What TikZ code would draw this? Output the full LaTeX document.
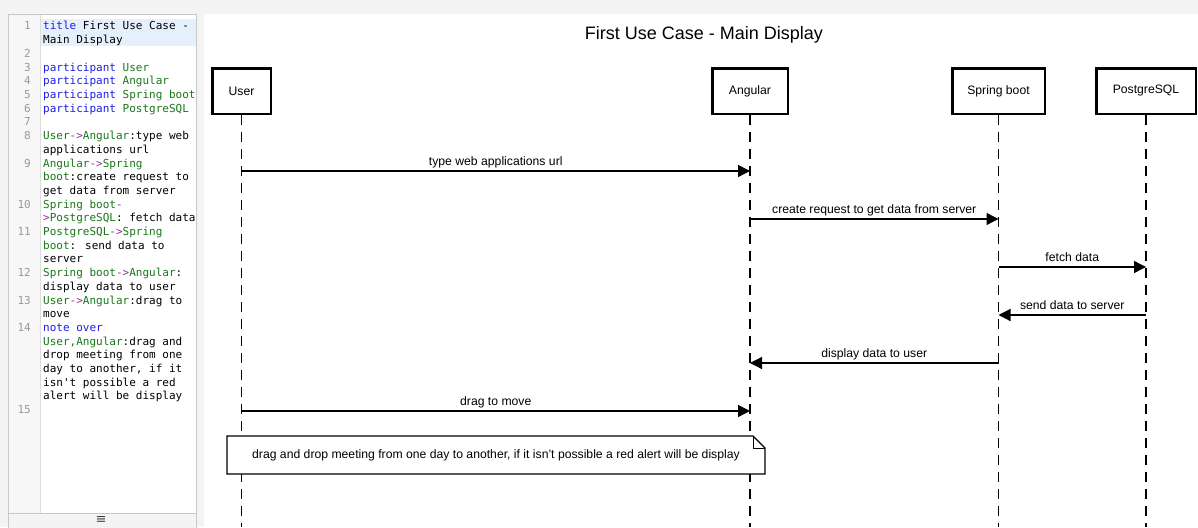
\documentclass[tikz,border=0pt]{standalone}
\usepackage{fontspec}
\setmainfont{Liberation Sans}
\newfontfamily\codefont{DejaVu Sans Mono}
\newfontfamily\glyphfont{DejaVu Sans}
\usetikzlibrary{arrows.meta}
\definecolor{pagegray}{HTML}{F4F4F4}
\definecolor{framegray}{HTML}{C8C8C8}
\definecolor{guttergray}{HTML}{F7F7F7}
\definecolor{gutterline}{HTML}{DDDDDD}
\definecolor{hlblue}{HTML}{E6F0FC}
\definecolor{lngray}{HTML}{999999}
\definecolor{cdblue}{RGB}{30,30,225}
\definecolor{cdgreen}{RGB}{25,120,25}
\definecolor{cdpurple}{RGB}{160,40,160}
\newcommand\cdkw[1]{\textcolor{cdblue}{#1}}
\newcommand\cdnm[1]{\textcolor{cdgreen}{#1}}
\newcommand\cdar[1]{\textcolor{cdpurple}{#1}}
\begin{document}
\begin{tikzpicture}[x=1pt,y=-1pt,
  actor/.style={draw, line width=2.5pt, fill=white, minimum height=45.5pt, inner sep=0pt,
    font=\fontsize{12.2}{14}\selectfont},
  lifeline/.style={dash pattern=on 10pt off 7pt, line width=1.3pt},
  msg/.style={line width=1.3pt, -{Triangle[length=12pt,width=12pt]}},
  msglabel/.style={anchor=base, inner sep=0pt, font=\fontsize{12.2}{14}\selectfont},
  code/.style={anchor=base west, inner sep=0pt, font=\codefont\fontsize{11}{13}\selectfont},
  lnum/.style={anchor=base east, inner sep=0pt, text=lngray, font=\codefont\fontsize{11}{13}\selectfont},
  notebox/.style={draw, fill=white, line width=1.3pt, line join=miter}
]
\useasboundingbox (0,0) rectangle (1198,527);
% backgrounds
\fill[pagegray] (0,0) rectangle (1198,527);
\fill[white] (204,14) rectangle (1198,527);
% editor
\filldraw[fill=white, draw=framegray, line width=1pt] (8.5,14.5) rectangle (196,530);
\fill[guttergray] (9,15) rectangle (40,513);
\draw[gutterline, line width=1pt] (40.5,15) -- (40.5,513);
\fill[hlblue] (41,19) rectangle (195.5,46);
\filldraw[fill=pagegray, draw=framegray, line width=1pt] (8.5,513) rectangle (196,530);
\node[inner sep=0pt, text=black!75, font=\glyphfont\fontsize{13}{14}\selectfont] (menu) at (101,520) {≡};
% line numbers
\node[lnum] (n1) at (31,30.0) {1};
\node[lnum] (n2) at (31,57.4) {2};
\node[lnum] (n3) at (31,71.1) {3};
\node[lnum] (n4) at (31,84.8) {4};
\node[lnum] (n5) at (31,98.5) {5};
\node[lnum] (n6) at (31,112.2) {6};
\node[lnum] (n7) at (31,125.9) {7};
\node[lnum] (n8) at (31,139.6) {8};
\node[lnum] (n9) at (31,167.0) {9};
\node[lnum] (n10) at (31,208.1) {10};
\node[lnum] (n11) at (31,235.5) {11};
\node[lnum] (n12) at (31,276.6) {12};
\node[lnum] (n13) at (31,304.0) {13};
\node[lnum] (n14) at (31,331.4) {14};
\node[lnum] (n15) at (31,413.6) {15};
% code text
\node[code] (c0) at (43,30.0) {\cdkw{title} First Use Case -};
\node[code] (c1) at (43,43.7) {Main Display};
\node[code] (c3) at (43,71.1) {\cdkw{participant} \cdnm{User}};
\node[code] (c4) at (43,84.8) {\cdkw{participant} \cdnm{Angular}};
\node[code] (c5) at (43,98.5) {\cdkw{participant} \cdnm{Spring boot}};
\node[code] (c6) at (43,112.2) {\cdkw{participant} \cdnm{PostgreSQL}};
\node[code] (c8) at (43,139.6) {\cdnm{User}\cdar{->}\cdnm{Angular}:type web};
\node[code] (c9) at (43,153.3) {applications url};
\node[code] (c10) at (43,167.0) {\cdnm{Angular}\cdar{->}\cdnm{Spring}};
\node[code] (c11) at (43,180.7) {\cdnm{boot}:create request to};
\node[code] (c12) at (43,194.4) {get data from server};
\node[code] (c13) at (43,208.1) {\cdnm{Spring boot}\cdar{-}};
\node[code] (c14) at (43,221.8) {\cdar{>}\cdnm{PostgreSQL}: fetch data};
\node[code] (c15) at (43,235.5) {\cdnm{PostgreSQL}\cdar{->}\cdnm{Spring}};
\node[code] (c16) at (43,249.2) {\cdnm{boot}: send data to};
\node[code] (c17) at (43,262.9) {server};
\node[code] (c18) at (43,276.6) {\cdnm{Spring boot}\cdar{->}\cdnm{Angular}:};
\node[code] (c19) at (43,290.3) {display data to user};
\node[code] (c20) at (43,304.0) {\cdnm{User}\cdar{->}\cdnm{Angular}:drag to};
\node[code] (c21) at (43,317.7) {move};
\node[code] (c22) at (43,331.4) {\cdkw{note over}};
\node[code] (c23) at (43,345.1) {\cdnm{User,Angular}:drag and};
\node[code] (c24) at (43,358.8) {drop meeting from one};
\node[code] (c25) at (43,372.5) {day to another, if it};
\node[code] (c26) at (43,386.2) {isn't possible a red};
\node[code] (c27) at (43,399.9) {alert will be display};
% diagram title
\node[inner sep=0pt, font=\fontsize{18}{21}\selectfont] (title) at (704,35) {First Use Case - Main Display};
% participants
\node[actor, minimum width=58.5pt] (user) at (241.5,91) {User};
\node[actor, minimum width=75.5pt] (ang) at (750,91) {Angular};
\node[actor, minimum width=92.5pt] (spr) at (998.5,91) {Spring boot};
\node[actor, minimum width=99.5pt] (pg) at (1146,91) {PostgreSQL};
\coordinate (bot) at (0,527);
\draw[lifeline] (user.south) -- (user |- bot);
\draw[lifeline] (ang.south) -- (ang |- bot);
\draw[lifeline] (spr.south) -- (spr |- bot);
\draw[lifeline] (pg.south) -- (pg |- bot);
% messages
\coordinate (m1) at (0,171);
\coordinate (m2) at (0,219);
\coordinate (m3) at (0,267);
\coordinate (m4) at (0,315);
\coordinate (m5) at (0,363);
\coordinate (m6) at (0,411);
\draw[msg] (user |- m1) -- (ang |- m1) node[msglabel, midway, yshift=6pt] (l1) {type web applications url};
\draw[msg] (ang |- m2) -- (spr |- m2) node[msglabel, midway, yshift=6pt] (l2) {create request to get data from server};
\draw[msg] (spr |- m3) -- (pg |- m3) node[msglabel, midway, yshift=6pt] (l3) {fetch data};
\draw[msg] (pg |- m4) -- (spr |- m4) node[msglabel, midway, yshift=6pt] (l4) {send data to server};
\draw[msg] (spr |- m5) -- (ang |- m5) node[msglabel, midway, yshift=6pt] (l5) {display data to user};
\draw[msg] (user |- m6) -- (ang |- m6) node[msglabel, midway, yshift=6pt] (l6) {drag to move};
% note
\draw[notebox] (227,474) -- (227,436) -- (753,436) -- (765,448) -- (765,474) -- cycle;
\draw[line width=1pt] (753,436) -- (753,448) -- (765,448);
\node[inner sep=0pt, font=\fontsize{12.2}{14}\selectfont] (note) at (496,455.5) {drag and drop meeting from one day to another, if it isn't possible a red alert will be display};
\end{tikzpicture}
\end{document}
